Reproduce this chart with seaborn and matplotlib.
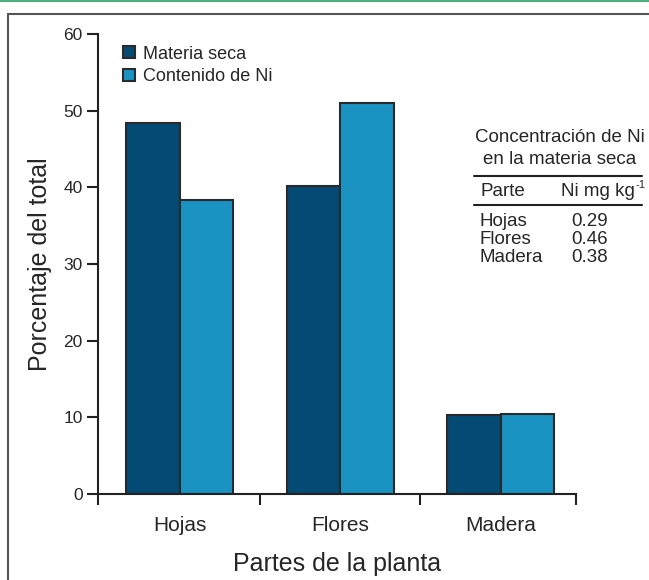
import pandas as pd
import seaborn as sns
import matplotlib.pyplot as plt
from matplotlib.lines import Line2D

# Data
parts = ["Hojas", "Flores", "Madera"]
materia_seca = [48.4, 40.2, 10.3]
contenido_ni = [38.3, 51.0, 10.4]
series = ["Materia seca", "Contenido de Ni"]

table_parts = ["Hojas", "Flores", "Madera"]
table_ni = ["0.29", "0.46", "0.38"]

df = pd.DataFrame({
    "parte": parts * 2,
    "serie": [series[0]] * 3 + [series[1]] * 3,
    "valor": materia_seca + contenido_ni,
})

sns.set_style("ticks")
plt.rcParams["font.family"] = ["Liberation Sans", "DejaVu Sans"]

dark = "#034a75"
light = "#1a93c3"
edge = "#2a2a2a"

fig = plt.figure(figsize=(6.49, 5.8), dpi=100)
ax = fig.add_axes([0.151, 0.1483, 0.7365, 0.7931])

sns.barplot(data=df, x="parte", y="valor", hue="serie", order=parts,
            hue_order=series, palette=[dark, light], width=0.667,
            edgecolor=edge, linewidth=1.5, saturation=1, ax=ax)

x0, x1 = -0.51, 2.47
ax.set_xlim(x0, x1)
ax.set_ylim(0, 60)
ax.set_yticks(range(0, 61, 10))
ax.set_xticks([x0, 0.5, 1.5, x1], minor=True)
ax.tick_params(axis="x", which="major", length=0, pad=16, labelsize=15)
ax.tick_params(axis="x", which="minor", length=8, width=1.5, color="#222222")
ax.tick_params(axis="y", length=8, width=1.5, color="#222222", pad=3,
               labelsize=12.5)
for s in ["left", "bottom"]:
    ax.spines[s].set_linewidth(1.5)
    ax.spines[s].set_color("#222222")
sns.despine(ax=ax, top=True, right=True)

ax.set_xlabel("Partes de la planta", fontsize=18, labelpad=12)
ax.set_ylabel("Porcentaje del total", fontsize=18, labelpad=8)

ax.legend(frameon=False, loc="upper left", bbox_to_anchor=(0.038, 0.99),
          fontsize=13, handlelength=0.65, handleheight=0.65, handletextpad=0.45,
          labelspacing=0.3, borderaxespad=0)

# inset table
fs = 13.5
tx = 560 / 649
fig.text(tx, 1 - 138 / 580, "Concentración de Ni", ha="center", va="center",
         fontsize=fs)
fig.text(tx, 1 - 160 / 580, "en la materia seca", ha="center", va="center",
         fontsize=fs)
fig.add_artist(Line2D([474 / 649, 642 / 649], [1 - 176 / 580] * 2,
                      color="#222222", lw=1.5))
fig.text(480 / 649, 1 - 191 / 580, "Parte", ha="left", va="center", fontsize=fs)
fig.text(635 / 649, 1 - 191 / 580, "Ni mg kg", ha="right", va="center",
         fontsize=fs)
fig.text(636 / 649, 1 - 185 / 580, "-1", ha="left", va="center", fontsize=8)
fig.add_artist(Line2D([474 / 649, 642 / 649], [1 - 205 / 580] * 2,
                      color="#222222", lw=1.5))
for i, (p, v) in enumerate(zip(table_parts, table_ni)):
    y = 1 - (222 + 18 * i) / 580
    fig.text(479 / 649, y, p, ha="left", va="center", fontsize=fs)
    fig.text(590 / 649, y, v, ha="center", va="center", fontsize=fs)

# page frame
fig.add_artist(Line2D([0, 1], [1 - 1 / 580] * 2, color="#4caf7d", lw=1.5))
fig.add_artist(Line2D([8 / 649, 1], [1 - 14 / 580] * 2, color="#555555", lw=1.5))
fig.add_artist(Line2D([8 / 649] * 2, [0, 1 - 14 / 580], color="#555555", lw=1.5))

fig.savefig("out.png", dpi=100)
